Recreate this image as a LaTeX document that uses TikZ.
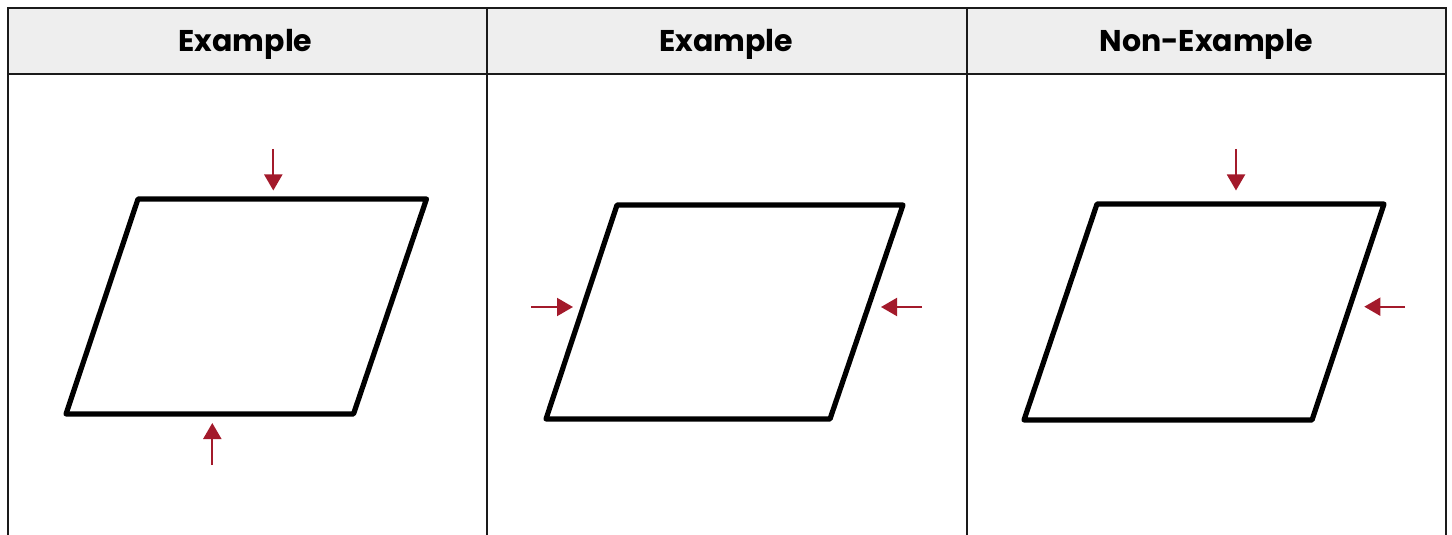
\documentclass[tikz,border=0pt]{standalone}
\usepackage{fontspec}
\usepackage{xcolor}
\usepackage{tikz}
\usetikzlibrary{arrows.meta}
\newfontfamily\headfont{Poppins}
\definecolor{GridInk}{HTML}{1A1A1A}
\definecolor{HeadGrey}{HTML}{EEEEEE}
\definecolor{PushRed}{HTML}{A31A2B}
\tikzset{
  grid/.style={draw=GridInk,line width=1pt},
  head/.style={font=\headfont\bfseries\fontsize{15}{18}\selectfont,text=black,anchor=center},
  quad/.style={draw=black,line width=2.6pt,line join=round},
  push/.style={-{Triangle[length=8pt,width=9pt]},draw=PushRed,line width=1pt}
}

\begin{document}
\begin{tikzpicture}[x=0.5pt,y=-0.5pt]
          \useasboundingbox (0,0) rectangle (1452,535);
          % table
          \fill[HeadGrey] (8,8) rectangle (1446,74);
          \draw[grid] (8,535) -- (8,8) -- (1446,8) -- (1446,535);
          \draw[grid] (8,74) -- (1446,74);
          \draw[grid] (487,8) -- (487,535);
          \draw[grid] (967,8) -- (967,535);
          \node[head] (h1) at (245.5,44) {Example};
          \node[head] (h2) at (726,44) {Example};
          \node[head] (h3) at (1206,44) {Non-Example};
          % shapes
          \draw[quad] (138,199) -- (426.5,199) -- (353.5,414) -- (66,414) -- cycle;
          \draw[quad] (617,205) -- (903,205) -- (830,419) -- (546,419) -- cycle;
          \draw[quad] (1097,204) -- (1384,204) -- (1312,420) -- (1024,420) -- cycle;
          % arrows
          \coordinate (a1s) at (273.3,149); \coordinate (a1e) at (273.3,190.5);
          \coordinate (a2s) at (212.3,465); \coordinate (a2e) at (212.3,423);
          \coordinate (b1s) at (531,307); \coordinate (b1e) at (573,307);
          \coordinate (b2s) at (922,307); \coordinate (b2e) at (881,307);
          \coordinate (c1s) at (1236,149); \coordinate (c1e) at (1236,190.5);
          \coordinate (c2s) at (1405,306.7); \coordinate (c2e) at (1364.3,306.7);
          \foreach \s/\e in {a1s/a1e,a2s/a2e,b1s/b1e,b2s/b2e,c1s/c1e,c2s/c2e}
            \draw[push] (\s) -- (\e);
        \end{tikzpicture}
\end{document}
